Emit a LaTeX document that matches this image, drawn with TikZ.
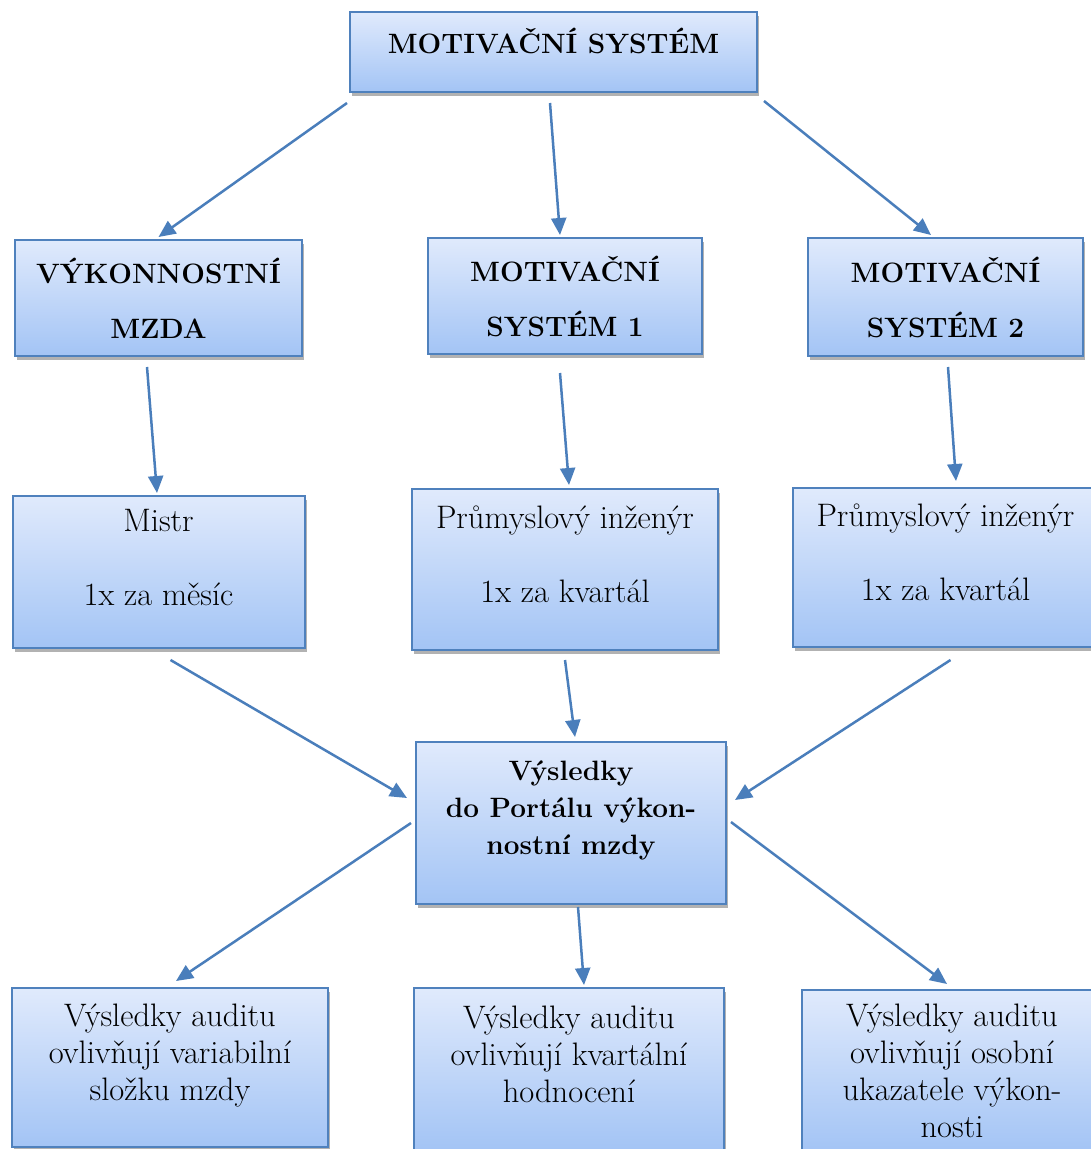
\documentclass[tikz,border=0pt]{standalone}
\usepackage{fontspec}
\usetikzlibrary{arrows.meta, positioning, shadows}

\definecolor{boxtop}{RGB}{224,234,252}
\definecolor{boxbottom}{RGB}{163,196,245}
\definecolor{boxline}{RGB}{79,129,189}
\definecolor{linkblue}{RGB}{74,126,187}

\begin{document}
\begin{tikzpicture}[
    x=1pt, y=-1pt,
    box/.style={rectangle, draw=boxline, line width=2pt, top color=boxtop, bottom color=boxbottom,
        drop shadow={shadow xshift=2pt, shadow yshift=-4pt, fill=black, opacity=0.3},
        align=center, inner sep=2pt},
    headbox/.style={box, font=\fontsize{28}{55}\selectfont\bfseries},
    infobox/.style={box, font=\fontsize{32.5}{37}\selectfont, text depth=30pt},
    portalbox/.style={infobox, font=\fontsize{28}{37}\selectfont\bfseries},
    link/.style={draw=linkblue, line width=2.5pt, -{Triangle[length=17pt, width=15pt]}},
]
    \useasboundingbox (0,0) rectangle (1091,1149);
    \clip (0,0) rectangle (1091,1149);

    % Top
    \node[headbox, minimum width=407pt, minimum height=80pt, text depth=22pt] (top) at (553.5,52) {MOTIVAČNÍ SYSTÉM};

    % Second row
    \node[headbox, minimum width=287pt, minimum height=116pt] (vyk) at (158.5,298) {VÝKONNOSTNÍ\\MZDA};
    \node[headbox, minimum width=274pt, minimum height=116pt] (ms1) at (565,296) {MOTIVAČNÍ\\SYSTÉM 1};
    \node[headbox, minimum width=275pt, minimum height=118pt] (ms2) at (945.5,297) {MOTIVAČNÍ\\SYSTÉM 2};

    % Third row
    \node[infobox, minimum width=292pt, minimum height=152pt, below=138pt of vyk] (mistr) {Mistr\\[37pt]1x za měsíc};
    \node[infobox, minimum width=306pt, minimum height=161pt, below=133pt of ms1] (ing1) {Průmyslový inženýr\\[37pt]1x za kvartál};
    \node[infobox, minimum width=306pt, minimum height=159pt, below=130pt of ms2] (ing2) {Průmyslový inženýr\\[37pt]1x za kvartál};

    % Portal
    \node[portalbox, minimum width=310pt, minimum height=162pt] (portal) at (571,823) {Výsledky\\do Portálu výkon-\\nostní mzdy};

    % Bottom row
    \node[infobox, minimum width=316pt, minimum height=159pt] (audit1) at (170,1067.5) {Výsledky auditu\\ovlivňují variabilní\\složku mzdy};
    \node[infobox, minimum width=310pt, minimum height=162pt] (audit2) at (569,1069) {Výsledky auditu\\ovlivňují kvartální\\hodnocení};
    \node[box, font=\fontsize{32.5}{37}\selectfont, minimum width=300pt, minimum height=162pt] (audit3) at (952,1071) {Výsledky auditu\\ovlivňují osobní\\ukazatele výkon-\\nosti};

    % Top to second row
    \draw[link] ([xshift=-2pt, yshift=-10pt]top.south west) -- ([yshift=2pt]vyk.north);
    \draw[link] ([xshift=-3.5pt, yshift=-10pt]top.south) -- ([xshift=-5pt, yshift=2pt]ms1.north);
    \draw[link] ([xshift=6pt, yshift=-8pt]top.south east) -- ([xshift=124pt, yshift=2pt]ms2.north west);

    % Second to third row
    \draw[link] ([xshift=-11.5pt, yshift=-10pt]vyk.south) -- ([xshift=-1.5pt, yshift=2pt]mistr.north);
    \draw[link] ([xshift=-5pt, yshift=-18pt]ms1.south) -- ([xshift=4pt, yshift=3pt]ing1.north);
    \draw[link] ([xshift=2.5pt, yshift=-10pt]ms2.south) -- ([xshift=10.5pt, yshift=6pt]ing2.north);

    % Into portal
    \draw[link] ([xshift=12pt, yshift=-11pt]mistr.south) -- ([xshift=-8pt, yshift=25pt]portal.west);
    \draw[link] ([xshift=0pt, yshift=-9pt]ing1.south) -- ([xshift=4pt, yshift=4pt]portal.north);
    \draw[link] ([xshift=5pt, yshift=-12pt]ing2.south) -- ([xshift=8pt, yshift=23pt]portal.east);

    % Out of portal
    \draw[link] ([xshift=-4pt]portal.west) -- ([xshift=6pt, yshift=6pt]audit1.north);
    \draw[link] ([xshift=7pt, yshift=-2pt]portal.south) -- ([xshift=15pt, yshift=2pt]audit2.north);
    \draw[link] ([xshift=4pt, yshift=1pt]portal.east) -- ([xshift=-5pt, yshift=5pt]audit3.north);
\end{tikzpicture}
\end{document}
